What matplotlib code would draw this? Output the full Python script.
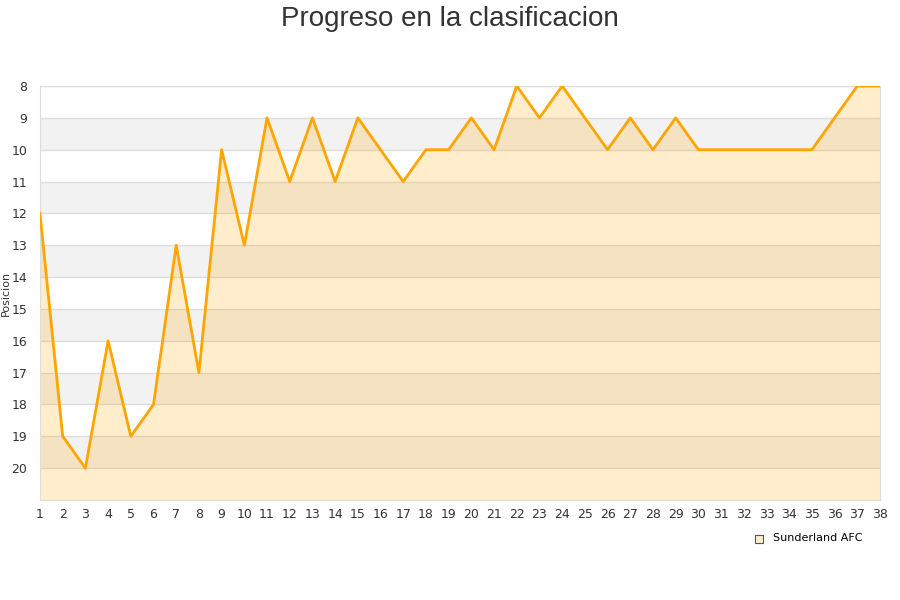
import matplotlib.pyplot as plt

jornadas = list(range(1, 39))
posiciones = [12, 19, 20, 16, 19, 18, 13, 17, 10, 13, 9, 11, 9, 11, 9, 10, 11, 10, 10, 9,
              10, 8, 9, 8, 9, 10, 9, 10, 9, 10, 10, 10, 10, 10, 10, 9, 8, 8]
equipo = 'Sunderland AFC'

fig = plt.figure(figsize=(9, 6), dpi=100)
ax = fig.add_axes([40 / 900, 100 / 600, 840 / 900, 414 / 600])

# bandas alternas de fondo
for y0 in range(9, 21, 2):
    ax.axhspan(y0, y0 + 1, color='#f2f2f2', zorder=0, lw=0)
for y in range(8, 21):
    ax.axhline(y, color='#dddddd', lw=1, zorder=1)

ax.fill_between(jornadas, posiciones, 21, color='#ffa500', alpha=0.2, lw=0, zorder=2)
ax.plot(jornadas, posiciones, color='#ffa500', lw=2, zorder=3)

ax.set_xlim(1, 38)
ax.set_ylim(21, 8)
ax.set_xticks(jornadas)
ax.set_yticks(range(8, 21))
ax.tick_params(length=0, labelsize=9, labelcolor='#333333')
ax.tick_params(axis='x', pad=6)
ax.tick_params(axis='y', pad=9)
for s in ax.spines.values():
    s.set_color('#dddddd')
ax.set_ylabel('Posicion', fontsize=8, color='#333333')
ax.yaxis.set_label_coords(-0.035, 0.5)

fig.suptitle('Progreso en la clasificacion', fontsize=20, color='#333333', y=0.99,
             family=['Liberation Sans', 'DejaVu Sans'])

ax.scatter([], [], marker='s', s=40, facecolor='#ffedcc', edgecolor='#555555', lw=0.8, label=equipo)
ax.legend(loc='upper right', bbox_to_anchor=(0.985, -0.07), frameon=False, fontsize=8,
          handletextpad=0.3, borderaxespad=0)

fig.savefig('out.png', dpi=100)
